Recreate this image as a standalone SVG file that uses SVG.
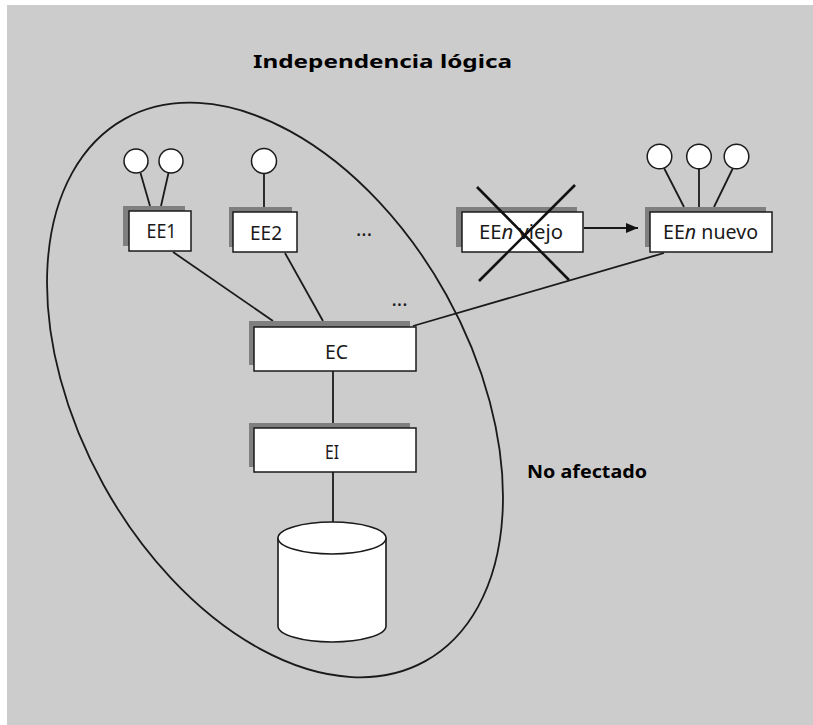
<svg xmlns="http://www.w3.org/2000/svg" width="813" height="725" viewBox="0 0 813 725">
<style>
.bg{fill:#cccccc}
.ln{stroke:#1a1a1a;stroke-width:1.8;fill:none}
.sh{fill:#7f7f7f}
.bx{fill:#ffffff;stroke:#1a1a1a;stroke-width:1.5}
.ci{fill:#ffffff;stroke:#1a1a1a;stroke-width:1.5}
.t{font-family:"Noto Sans","Liberation Sans",sans-serif;font-size:20px;fill:#1a1a1a;text-anchor:middle}
.b{font-family:"Noto Sans","Liberation Sans",sans-serif;font-size:18px;font-weight:bold;fill:#000}
.x{stroke:#111;stroke-width:2.6}
</style>
<defs>
<marker id="ah" markerWidth="12" markerHeight="10" refX="12" refY="5" orient="auto" markerUnits="userSpaceOnUse">
<path d="M0,0 L12,5 L0,10 Z" fill="#111"/>
</marker>
</defs>
<rect x="0" y="0" width="813" height="725" fill="#ffffff"/>
<rect class="bg" x="7" y="5" width="806" height="720"/>
<text class="b" x="253" y="68" font-size="22" textLength="259" lengthAdjust="spacingAndGlyphs">Independencia lógica</text>
<g id="boundary">
<ellipse cx="275" cy="390" rx="196" ry="310" transform="rotate(-29 275 390)" fill="none" stroke="#1a1a1a" stroke-width="1.8"/>
</g>
<g id="connectors">
<line class="ln" x1="140.5" y1="173" x2="150" y2="206"/>
<line class="ln" x1="168.5" y1="173" x2="161" y2="206"/>
<line class="ln" x1="264" y1="173.5" x2="264" y2="207"/>
<line class="ln" x1="664" y1="168" x2="684" y2="207"/>
<line class="ln" x1="699" y1="169" x2="699" y2="207"/>
<line class="ln" x1="733" y1="168" x2="714" y2="207"/>
<line class="ln" x1="173" y1="252" x2="273" y2="321"/>
<line class="ln" x1="285" y1="253" x2="323" y2="321"/>
<line class="ln" x1="413" y1="326" x2="664" y2="253"/>
<line class="ln" x1="333" y1="371" x2="333" y2="423"/>
<line class="ln" x1="333" y1="472" x2="333" y2="522"/>
<line class="ln" x1="584" y1="228" x2="638" y2="228" marker-end="url(#ah)"/>
</g>
<g id="EE1">
<circle class="ci" cx="136" cy="161" r="12"/>
<circle class="ci" cx="171" cy="161" r="12"/>
<rect class="sh" x="123" y="206" width="62" height="40"/>
<rect class="bx" x="129" y="211" width="62" height="40"/>
<text class="t" x="161.5" y="238" textLength="30" lengthAdjust="spacingAndGlyphs">EE1</text>
</g>
<g id="EE2">
<circle class="ci" cx="264" cy="161" r="12.5"/>
<rect class="sh" x="229" y="207" width="63" height="40"/>
<rect class="bx" x="233" y="212" width="64" height="40"/>
<text class="t" x="266" y="240" textLength="32" lengthAdjust="spacingAndGlyphs">EE2</text>
</g>
<g id="dots">
<text class="t" x="364" y="236" font-size="14">...</text>
<text class="t" x="399.5" y="306" font-size="14">...</text>
</g>
<g id="EEn_viejo">
<rect class="sh" x="456" y="207" width="121" height="40"/>
<rect class="bx" x="462" y="212" width="121" height="40"/>
<text class="t" x="521" y="239" textLength="84" lengthAdjust="spacingAndGlyphs">EE<tspan font-style="italic">n</tspan> viejo</text>
<line class="x" x1="477" y1="187" x2="569" y2="280"/>
<line class="x" x1="575" y1="185" x2="479" y2="281"/>
</g>
<g id="EEn_nuevo">
<circle class="ci" cx="659.5" cy="156.5" r="12.3"/>
<circle class="ci" cx="699" cy="156.5" r="12.3"/>
<circle class="ci" cx="736.5" cy="156.5" r="12.3"/>
<rect class="sh" x="645" y="207" width="121" height="40"/>
<rect class="bx" x="650" y="212" width="122" height="40"/>
<text class="t" x="710.5" y="239" textLength="95" lengthAdjust="spacingAndGlyphs">EE<tspan font-style="italic">n</tspan> nuevo</text>
</g>
<g id="EC">
<rect class="sh" x="249" y="321" width="161" height="44"/>
<rect class="bx" x="254" y="327" width="162" height="44"/>
<text class="t" x="336.5" y="359" textLength="23" lengthAdjust="spacingAndGlyphs">EC</text>
</g>
<g id="EI">
<rect class="sh" x="249" y="423" width="161" height="44"/>
<rect class="bx" x="254" y="428" width="162" height="44"/>
<text class="t" x="332" y="459" textLength="14" lengthAdjust="spacingAndGlyphs">EI</text>
</g>
<g id="DB">
<path d="M278,538 L278,626 A54,16 0 0 0 386,626 L386,538" fill="#ffffff" stroke="#1a1a1a" stroke-width="1.6"/>
<ellipse cx="332" cy="538" rx="54" ry="16" fill="#ffffff" stroke="#1a1a1a" stroke-width="1.6"/>
</g>
<text class="b" x="527" y="478" font-size="17" textLength="120" lengthAdjust="spacingAndGlyphs">No afectado</text>
</svg>
